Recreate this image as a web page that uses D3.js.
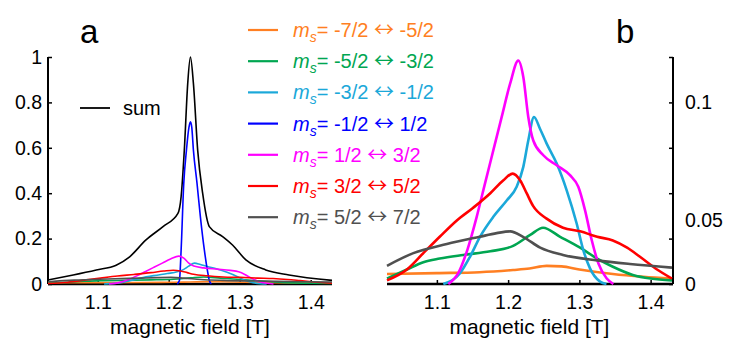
<!DOCTYPE html>
<html>
<head>
<meta charset="utf-8">
<script src="https://cdn.jsdelivr.net/npm/d3@7"></script>
<style>
  html, body { margin: 0; padding: 0; background: #fff; }
  svg { display: block; font-family: "Liberation Sans", Arial, Helvetica, sans-serif; }
</style>
</head>
<body>
<svg id="chart" width="729" height="338"></svg>
<script>
// Spin transitions (legend order = drawing order) and their colours
const spinFrom = ["-7/2", "-5/2", "-3/2", "-1/2", "1/2", "3/2", "5/2"];
const spinTo   = ["-5/2", "-3/2", "-1/2", "1/2", "3/2", "5/2", "7/2"];
const colors = ["#ff7f22", "#00a651", "#1ba8d9", "#0000ff", "#ff00ff", "#ff0000", "#505050"];

// Magnetic field [T] and intensity for each transition
const fieldOrange = [1.03, 1.10, 1.16, 1.207, 1.23, 1.254, 1.275, 1.30, 1.347, 1.39, 1.43];
const intOrange   = [0.0055, 0.006, 0.0065, 0.0077, 0.0085, 0.010, 0.0097, 0.008, 0.0055, 0.004, 0.003];

const fieldGreen = [1.03, 1.058, 1.081, 1.104, 1.137, 1.175, 1.207, 1.231, 1.249, 1.273, 1.301, 1.325, 1.347, 1.375, 1.40, 1.43];
const intGreen   = [0.003, 0.008, 0.012, 0.014, 0.016, 0.018, 0.021, 0.027, 0.031, 0.026, 0.020, 0.014, 0.0095, 0.005, 0.003, 0.002];

const fieldCyan = [1.109, 1.1325, 1.1465, 1.1605, 1.1792, 1.198, 1.212, 1.2213, 1.2283, 1.2363, 1.2447, 1.2541,
                   1.2682, 1.2822, 1.2962, 1.3055, 1.3149, 1.329, 1.338];
const intCyan   = [0, 0.0059, 0.015, 0.026, 0.037, 0.046, 0.0535, 0.0645, 0.079, 0.092, 0.0855, 0.0773,
                   0.0663, 0.0516, 0.0333, 0.0187, 0.0086, 0.0013, 0];

const fieldBlue = [1.212, 1.2151, 1.2175, 1.2212, 1.225, 1.2285, 1.2306, 1.2325, 1.2348, 1.2399, 1.2446, 1.2502, 1.2545, 1.2572, 1.26];
const intBlue   = [0, 0.015, 0.15, 0.443, 0.59, 0.69, 0.715, 0.69, 0.59, 0.443, 0.297, 0.15, 0.06, 0.015, 0];

const fieldMagenta = [1.116, 1.13, 1.1427, 1.1559, 1.1675, 1.1792, 1.191, 1.2026, 1.2143, 1.2213, 1.2283, 1.2353,
                      1.2494, 1.2682, 1.2868, 1.2985, 1.3079, 1.3173, 1.3266, 1.3384, 1.3476];
const intMagenta   = [0, 0.006, 0.0187, 0.037, 0.0553, 0.0736, 0.092, 0.110, 0.123, 0.114, 0.092, 0.079,
                      0.0709, 0.0654, 0.0599, 0.0535, 0.0407, 0.0242, 0.0114, 0.003, 0];

const fieldRed = [1.03, 1.058, 1.081, 1.104, 1.128, 1.151, 1.175, 1.193, 1.2064, 1.217, 1.226, 1.235, 1.254,
                  1.277, 1.301, 1.325, 1.347, 1.367, 1.385, 1.409, 1.43];
const intRed   = [0.002, 0.008, 0.017, 0.026, 0.035, 0.042, 0.050, 0.057, 0.0608, 0.057, 0.050, 0.043, 0.036,
                  0.031, 0.029, 0.026, 0.024, 0.020, 0.015, 0.008, 0.003];

const fieldGray = [1.03, 1.067, 1.114, 1.160, 1.184, 1.203, 1.221, 1.245, 1.277, 1.325, 1.371, 1.43];
const intGray   = [0.010, 0.017, 0.022, 0.026, 0.028, 0.029, 0.026, 0.020, 0.016, 0.013, 0.011, 0.009];

// Total spectrum
const fieldSum = [1.03, 1.0655, 1.098, 1.126, 1.145, 1.168, 1.192, 1.213, 1.2175, 1.222, 1.2268, 1.2306, 1.2348,
                  1.2408, 1.2478, 1.2572, 1.2759, 1.2899, 1.3087, 1.3367, 1.3694, 1.43];
const intSum   = [0.018, 0.040, 0.062, 0.083, 0.120, 0.194, 0.253, 0.311, 0.385, 0.59, 0.884, 1.0, 0.884,
                  0.59, 0.40, 0.253, 0.209, 0.172, 0.106, 0.062, 0.040, 0.016];

// Axis ticks
const fieldTicks = [1.1, 1.2, 1.3, 1.4];
const ticksA = [0, 0.2, 0.4, 0.6, 0.8, 1];
const ticksB = [0, 0.025, 0.05, 0.075, 0.1, 0.125];
const labelTextB = ["0", "0.05", "0.1"];
const labelValB  = [0, 0.035, 0.1];

const fields = [fieldOrange, fieldGreen, fieldCyan, fieldBlue, fieldMagenta, fieldRed, fieldGray];
const intens = [intOrange, intGreen, intCyan, intBlue, intMagenta, intRed, intGray];
const series = spinFrom.map((f, i) => ({
  from: f, to: spinTo[i], color: colors[i],
  points: fields[i].map((x, j) => [x, intens[i][j]])
}));
const sumPoints = fieldSum.map((f, j) => [f, intSum[j]]);

const svg = d3.select("#chart");
const fontTick = 19.5;

function styleAxis(g) {
  g.select(".domain").remove();
  g.selectAll(".tick line").attr("stroke", "#000").attr("stroke-width", 1.5);
  g.selectAll(".tick text").attr("font-size", fontTick).attr("fill", "#000")
    .attr("font-family", "Liberation Sans, Arial, sans-serif");
}

// ---------- panel a ----------
const xA = d3.scaleLinear().domain([1.03, 1.43]).range([48, 332]);
const yA = d3.scaleLinear().domain([0, 1]).range([284, 57]);
const gA = svg.append("g");

gA.append("g").attr("transform", "translate(0,284)")
  .call(d3.axisBottom(xA).tickValues(fieldTicks).tickSizeInner(-4).tickSizeOuter(0)
        .tickPadding(11).tickFormat(d3.format(".1f")))
  .call(styleAxis);
gA.append("g").attr("transform", "translate(48,0)")
  .call(d3.axisLeft(yA).tickValues(ticksA).tickSizeInner(-4).tickSizeOuter(0)
        .tickPadding(6).tickFormat(d3.format("~g")))
  .call(styleAxis);
gA.append("line").attr("x1", xA.range()[0]).attr("x2", xA.range()[1])
  .attr("y1", yA(0)).attr("y2", yA(0)).attr("stroke", "#000").attr("stroke-width", 2.5);
gA.append("line").attr("x1", xA.range()[0]).attr("x2", xA.range()[0])
  .attr("y1", yA(0)).attr("y2", yA(1)).attr("stroke", "#000").attr("stroke-width", 2);

const lineA = d3.line().x(d => xA(d[0])).y(d => yA(d[1])).curve(d3.curveMonotoneX);
gA.append("path").attr("d", lineA(sumPoints)).attr("fill", "none")
  .attr("stroke", "#000").attr("stroke-width", 1.6);
series.forEach(s => {
  gA.append("path").attr("d", lineA(s.points)).attr("fill", "none")
    .attr("stroke", s.color).attr("stroke-width", 1.6);
});

gA.append("text").attr("x", 80).attr("y", 43).attr("font-size", 33).text("a");
gA.append("text").attr("x", (xA.range()[0] + xA.range()[1]) / 2).attr("y", 334)
  .attr("text-anchor", "middle").attr("font-size", 21).text("magnetic field [T]");

// "sum" legend entry
gA.append("line").attr("x1", 80).attr("x2", 110).attr("y1", 108).attr("y2", 108)
  .attr("stroke", "#000").attr("stroke-width", 1.8);
gA.append("text").attr("x", 123).attr("y", 114.5).attr("font-size", 20).text("sum");

// ---------- panel b ----------
const xB = d3.scaleLinear().domain([1.03, 1.43]).range([387, 672]);
const yB = d3.scaleLinear().domain([0, 0.125]).range([284, 57]);
const gB = svg.append("g");

gB.append("g").attr("transform", "translate(0,284)")
  .call(d3.axisBottom(xB).tickValues(fieldTicks).tickSizeInner(-4).tickSizeOuter(0)
        .tickPadding(11).tickFormat(d3.format(".1f")))
  .call(styleAxis);
gB.append("g").attr("transform", "translate(673,0)")
  .call(d3.axisRight(yB).tickValues(ticksB).tickSizeInner(-4).tickSizeOuter(0).tickFormat(""))
  .call(styleAxis);
gB.selectAll(null).data(labelValB).enter().append("text")
  .attr("x", 685).attr("y", d => yB(d)).attr("dy", "0.36em")
  .attr("font-size", fontTick).text((d, i) => labelTextB[i]);
gB.append("line").attr("x1", xB.range()[0]).attr("x2", 673)
  .attr("y1", yB(0)).attr("y2", yB(0)).attr("stroke", "#000").attr("stroke-width", 2.5);
gB.append("line").attr("x1", 673).attr("x2", 673)
  .attr("y1", yB(0)).attr("y2", yB(0.125)).attr("stroke", "#000").attr("stroke-width", 2);

const lineB = d3.line().x(d => xB(d[0])).y(d => yB(d[1])).curve(d3.curveMonotoneX);
series.filter(s => d3.max(s.points, p => p[1]) <= yB.domain()[1]).forEach(s => {
  gB.append("path").attr("d", lineB(s.points)).attr("fill", "none")
    .attr("stroke", s.color).attr("stroke-width", 2.6).attr("stroke-linejoin", "round");
});

gB.append("text").attr("x", 616).attr("y", 43).attr("font-size", 33).text("b");
gB.append("text").attr("x", (xB.range()[0] + xB.range()[1]) / 2).attr("y", 334)
  .attr("text-anchor", "middle").attr("font-size", 21).text("magnetic field [T]");

// ---------- transition legend ----------
const legend = svg.append("g");
series.forEach((s, i) => {
  const y = 30 + i * 31.2;
  legend.append("line").attr("x1", 248).attr("x2", 278).attr("y1", y).attr("y2", y)
    .attr("stroke", s.color).attr("stroke-width", 2.2);
  const t = legend.append("text").attr("x", 293).attr("y", y + 7)
    .attr("font-size", 20).attr("fill", s.color);
  t.append("tspan").attr("font-style", "italic").text("m");
  t.append("tspan").attr("font-style", "italic").attr("font-size", 14).attr("dy", 5).text("s");
  t.append("tspan").attr("dy", -5).text("= " + s.from + " ");
  t.append("tspan").attr("font-family", "Noto Sans CJK SC").attr("font-size", 20).text("\u2194");
  t.append("tspan").text(" " + s.to);
});
</script>
</body>
</html>
